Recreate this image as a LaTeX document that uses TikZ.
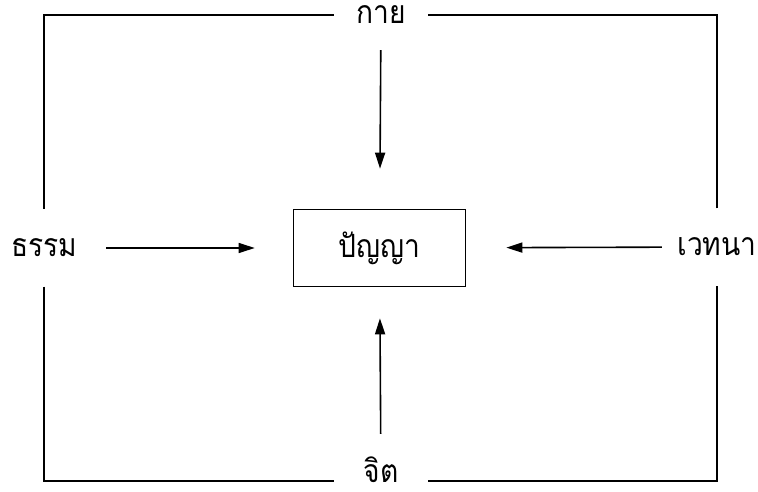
\documentclass[tikz,border=0pt]{standalone}
\usepackage{fontspec}
\newfontfamily\thaifont[Script=Thai,FakeStretch=0.88]{Loma}
\usetikzlibrary{arrows.meta}

\tikzset{
  kham/.style={font=\thaifont\fontsize{32}{38}\selectfont, inner sep=0pt},
  klong/.style={draw, line width=1.6pt, minimum width=172pt, minimum height=77pt, font=\thaifont\fontsize{32}{38}\selectfont},
  kheep/.style={-{Triangle[length=16pt,width=10pt]}, line width=1.6pt},
}

\begin{document}
\begin{tikzpicture}[x=1pt,y=-1pt]
        \useasboundingbox (0,0) rectangle (758,492);

        % กล่องกลาง
        \node[klong] (panya) at (379.5,248) {ปัญญา};

        % ข้อความรอบนอก
        \node[kham, minimum width=94pt, minimum height=30pt] (kay) at (381,15) {กาย};
        \node[kham, minimum width=94pt, minimum height=30pt, text depth=22pt] (jit) at (381,481) {จิต};
        \node[kham, minimum width=60pt, minimum height=77pt] (tham) at (44,248) {ธรรม};
        \node[kham, minimum width=84pt, minimum height=77pt] (wed) at (717,247) {เวทนา};

        % กรอบนอก
        \draw[line width=1.6pt] (kay.west) -| (tham.north);
        \draw[line width=1.6pt] (tham.south) |- (jit.west);
        \draw[line width=1.6pt] (jit.east) -| (wed.south);
        \draw[line width=1.6pt] (wed.north) |- (kay.east);

        % ลูกศรเข้าหาปัญญา
        \draw[kheep, shorten <=20pt, shorten >=40pt] (kay) -- (panya);
        \draw[kheep, shorten <=23pt, shorten >=31pt] (jit) -- (panya);
        \draw[kheep, shorten <=29pt, shorten >=38pt] (tham) -- (panya);
        \draw[kheep, shorten <=13pt, shorten >=40pt] (wed) -- (panya);
\end{tikzpicture}
\end{document}
